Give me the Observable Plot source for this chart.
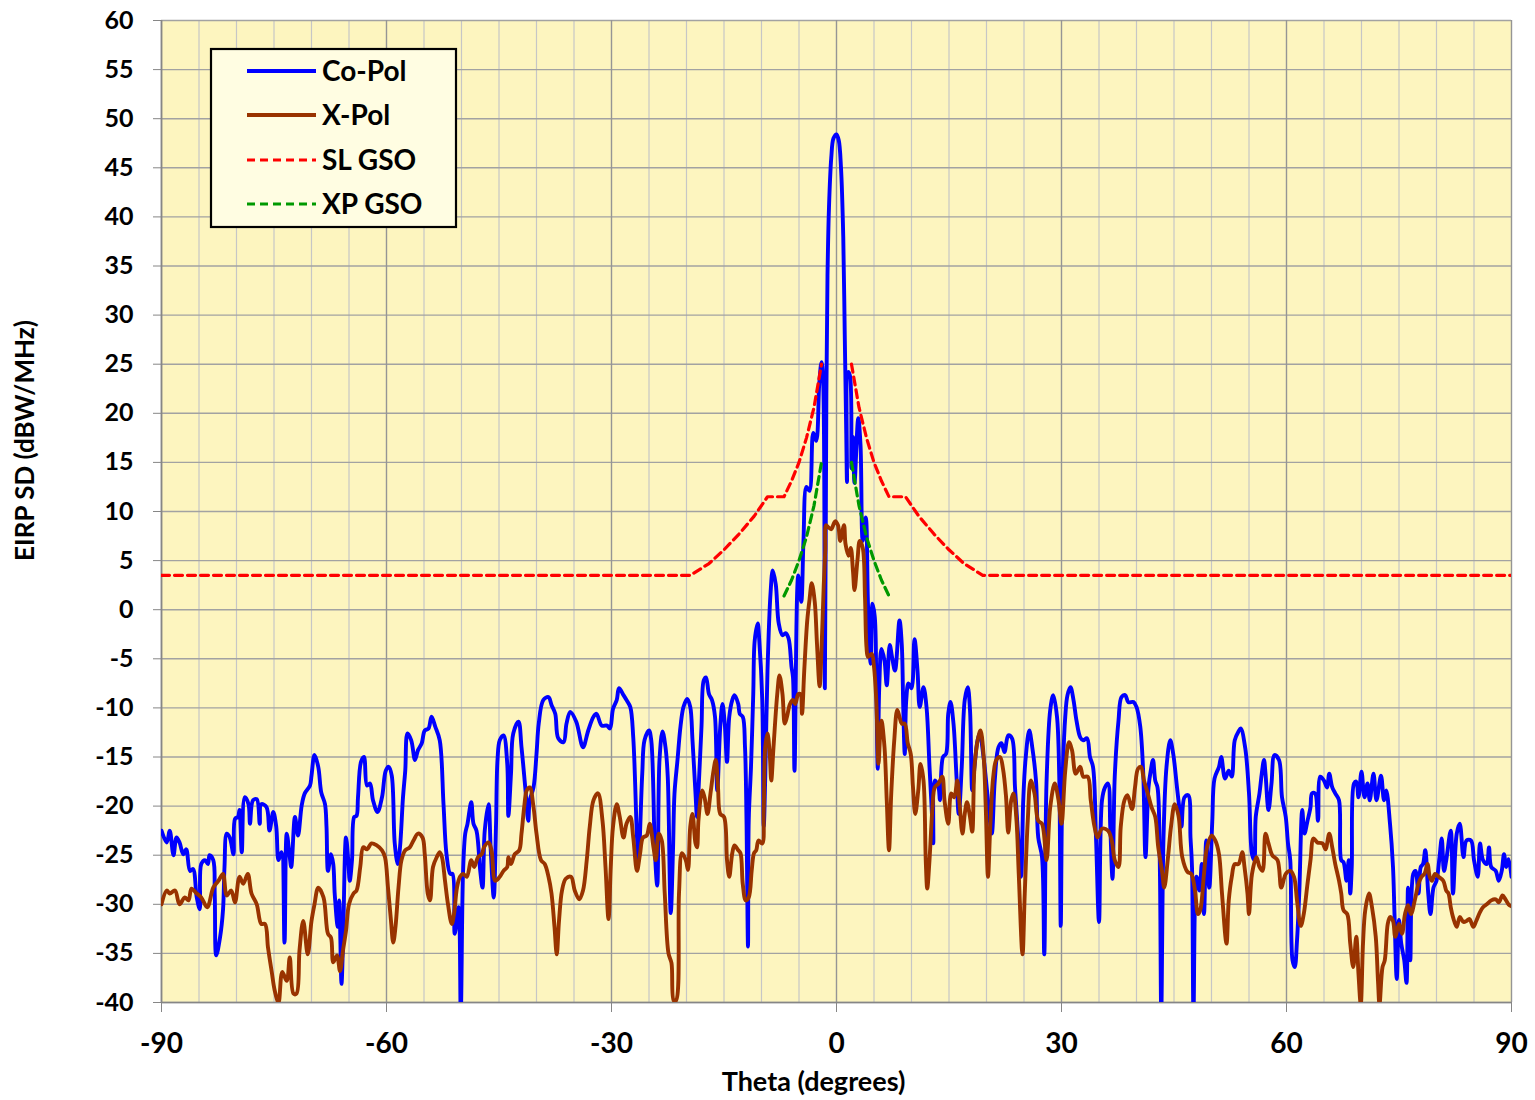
<!DOCTYPE html>
<html>
<head>
<meta charset="utf-8">
<script src="https://cdn.jsdelivr.net/npm/d3@7"></script>
<script src="https://cdn.jsdelivr.net/npm/@observablehq/plot@0.6"></script>
<style>
  html, body { margin: 0; padding: 0; background: #ffffff; }
  #wrap { position: relative; width: 1535px; height: 1100px; font-family: Lato, "Open Sans", sans-serif; }
  #legend { position: absolute; left: 0; top: 0; }
</style>
</head>
<body>
<div id="wrap"></div>
<script>
// ---------------- data ----------------
const xTicks = [-90, -60, -30, 0, 30, 60, 90];
const yTicks = [-40, -35, -30, -25, -20, -15, -10, -5, 0, 5, 10, 15, 20, 25, 30, 35, 40, 45, 50, 55, 60];
const xMinorGrid = [-85, -80, -75, -70, -65, -55, -50, -45, -40, -35, -25, -20, -15, -10, -5, 5, 10, 15, 20, 25, 35, 40, 45, 50, 55, 65, 70, 75, 80, 85];

const seriesNames = ["Co-Pol", "X-Pol", "SL GSO", "XP GSO"];
const seriesColors = ["#0000FF", "#993300", "#FF0000", "#009900"];

// Co-Pol: [theta (deg), EIRP SD (dBW/MHz)]
const coPol = [
[-90,-22.5],[-89.3,-23.7],[-88.9,-22.5],[-88.4,-25],[-88,-23.2],[-87.6,-23.7],[-87.1,-24.9],[-86.7,-24.4],[-86.2,-26.6],[-85.8,-26.4],
[-85.3,-29.3],[-84.9,-30.5],[-84.7,-25.9],[-84.2,-25.5],[-83.8,-25.9],[-83.6,-25],[-83.1,-25.5],[-82.9,-29],[-82.7,-35.2],[-82.2,-33.4],
[-81.8,-30.6],[-81.6,-26.2],[-81.3,-22.8],[-80.9,-23.2],[-80.4,-24.9],[-80.2,-21.3],[-79.8,-21.1],[-79.6,-20.4],[-79.3,-24.7],[-78.9,-19.1],
[-78.4,-19.8],[-78.2,-21.8],[-77.8,-19.4],[-77.3,-19.3],[-76.9,-21.8],[-76.7,-19.8],[-76,-20.1],[-75.6,-22.5],[-75.1,-20.6],[-74.7,-22.1],
[-74.4,-25.5],[-74,-24.7],[-73.6,-33.9],[-73.3,-22.8],[-72.9,-25.2],[-72.7,-26.2],[-72.2,-21.1],[-71.8,-23],[-71.3,-19.9],[-70.9,-18.7],
[-70.2,-17.9],[-70,-16.9],[-69.6,-14.8],[-69.1,-16],[-68.7,-18.6],[-68.2,-19.8],[-68,-22.1],[-67.8,-26.6],[-67.4,-24.9],[-67.1,-25.9],
[-66.9,-29],[-66.5,-32.3],[-66.3,-29.6],[-66,-38.1],[-65.8,-34],[-65.4,-23.2],[-65.1,-25.5],[-64.9,-27.6],[-64.6,-25.5],[-64.3,-21.1],
[-64,-21],[-63.8,-19.1],[-63.4,-15.5],[-63,-15],[-62.6,-17.9],[-62.2,-17.7],[-61.8,-19.4],[-61.2,-20.6],[-60.6,-19.1],[-60.1,-16.4],
[-59.7,-16],[-59.3,-16.9],[-58.9,-23.8],[-58.5,-25.9],[-58.2,-24.2],[-57.8,-19.1],[-57.5,-16.4],[-57.2,-12.6],[-56.7,-13.3],[-56.2,-15.3],
[-55.8,-14.3],[-55.3,-13.6],[-54.9,-12.3],[-54.4,-12.1],[-54,-10.9],[-53.5,-11.9],[-52.9,-13.3],[-52.4,-19.8],[-52,-24.9],[-51.5,-26.9],
[-51.2,-26.9],[-50.9,-33],[-50.4,-30.3],[-50.1,-41],[-49.8,-26.9],[-49.5,-22.8],[-49.2,-21.8],[-48.7,-19.6],[-48.4,-21.8],[-48,-22.5],
[-47.5,-26.6],[-47.2,-28.3],[-46.9,-22.5],[-46.4,-19.8],[-46.1,-24.5],[-45.7,-29.3],[-45.4,-22],[-45.2,-15.3],[-44.9,-13.3],[-44.4,-12.8],
[-43.9,-15.7],[-43.75,-21],[-43.4,-16.7],[-43.1,-12.6],[-42.4,-11.4],[-42,-14],[-41.5,-18.1],[-41.1,-21.5],[-40.9,-19.4],[-40.4,-18.1],
[-40,-14.7],[-39.7,-11.6],[-39.1,-9.2],[-38.4,-8.9],[-38,-9.7],[-37.5,-10.6],[-37.1,-13.1],[-36.4,-13.5],[-36,-11.6],[-35.5,-10.4],
[-34.7,-11.4],[-33.8,-14],[-33.1,-12.3],[-32.4,-10.9],[-32,-10.6],[-31.3,-11.8],[-30.6,-11.8],[-30.2,-12.1],[-29.8,-10.1],[-29.3,-9.2],
[-29,-8],[-28.4,-8.7],[-28,-9.2],[-27.5,-9.9],[-27.1,-13],[-26.6,-23.2],[-26.4,-25.5],[-25.9,-16.7],[-25.6,-13.3],[-25,-12.3],
[-24.7,-13.3],[-24.2,-24.9],[-23.9,-28.1],[-23.6,-15.3],[-23.2,-12.4],[-22.8,-14],[-22.5,-17],[-22.1,-30.9],[-21.8,-24.5],[-21.6,-18.7],
[-21.2,-15.3],[-20.8,-11.9],[-20.4,-9.9],[-19.9,-9.1],[-19.5,-9.9],[-19.2,-13.3],[-18.8,-18.7],[-18.6,-21.1],[-18.4,-18.4],[-18,-11.9],
[-17.7,-7.2],[-17.4,-6.9],[-17,-8.6],[-16.6,-9.2],[-16.2,-10.9],[-15.9,-18.4],[-15.5,-11.9],[-15.2,-9.6],[-14.9,-11.6],[-14.6,-15.5],
[-14.3,-10.9],[-13.9,-9.2],[-13.6,-8.7],[-13.1,-9.6],[-12.9,-10.6],[-12.5,-10.9],[-12.2,-14],[-12,-21.4],[-11.8,-34.3],[-11.7,-21.4],
[-11.4,-16],[-11.1,-8.6],[-10.9,-3.1],[-10.5,-1.4],[-10.3,-3.1],[-9.9,-9.2],[-9.7,-22.1],[-9.5,-17],[-9.2,-6.2],[-8.8,1.6],
[-8.5,4],[-8.1,2.6],[-7.7,-1.4],[-7.2,-2.6],[-6.8,-2.4],[-6.4,-2.9],[-6,-5.8],[-5.8,-6.9],[-5.6,-16.4],[-5.1,3.5],
[-4.7,0.8],[-4.4,7.1],[-4,12.5],[-3.6,12.1],[-3.1,18],[-2.7,17.2],[-2.3,23],[-2,25.2],[-1.8,23.8],[-1.55,-8],
[-1.35,22],[-1.2,34],[-1,41],[-0.7,46],[-0.4,48],[0,48.4],[0.3,47.8],[0.6,45],[0.9,38],[1.1,28],
[1.3,18],[1.4,13],[1.55,24.2],[1.8,23.8],[2,14.4],[2.2,17.6],[2.4,12.9],[2.9,19.5],[3.2,16.8],[3.5,7],
[3.9,9.4],[4.2,0.5],[4.55,-5.5],[4.8,0.6],[5.1,-0.7],[5.3,-6.9],[5.5,-16.2],[5.7,-7.9],[6,-4],[6.4,-5.2],
[6.7,-7.7],[7.1,-3.6],[7.4,-4.8],[7.8,-6.2],[8.4,-1.1],[8.7,-3.5],[8.9,-9.9],[9.1,-14.7],[9.3,-9.2],[9.6,-7.5],
[10,-8],[10.4,-3],[10.8,-6.2],[11.1,-9.9],[11.6,-7.9],[12,-9.9],[12.4,-16],[12.7,-20.4],[12.9,-23.8],[13.1,-17.4],
[13.6,-18.1],[13.8,-19.4],[14.2,-15],[14.6,-14.7],[14.9,-10.6],[15.2,-9.4],[15.6,-11.6],[16,-17],[16.3,-20.8],[16.7,-16],
[17.1,-9.2],[17.5,-7.9],[17.8,-10.2],[18.1,-18.4],[18.4,-16],[18.8,-13.3],[19.1,-12.6],[19.6,-15],[20.2,-19.4],[20.7,-22.8],
[21.1,-17.4],[21.6,-14],[22,-13.6],[22.4,-14.5],[22.9,-12.8],[23.4,-13.1],[23.8,-18.1],[24.2,-22.8],[24.6,-27.2],[24.9,-19.4],
[25.2,-15.3],[25.7,-12.3],[26.1,-14],[26.6,-17.4],[26.9,-23.2],[27.4,-25.2],[27.7,-35.1],[28,-17.7],[28.5,-10.2],[28.9,-8.7],
[29.4,-10.9],[29.7,-17],[29.9,-32.2],[30.1,-18.7],[30.5,-10.9],[30.8,-8.7],[31.2,-7.9],[31.6,-9.2],[32,-11.3],[32.5,-13],
[32.9,-13.3],[33.4,-13.1],[33.8,-15],[34.2,-16],[34.6,-23.2],[35,-31.8],[35.4,-19.4],[35.8,-18.1],[36.2,-17.7],[36.5,-22.1],
[36.8,-27.4],[37.1,-17],[37.6,-11.3],[38,-8.9],[38.5,-8.7],[38.9,-9.4],[39.6,-9.4],[40,-9.9],[40.5,-11.9],[40.9,-16.7],
[41.2,-25.2],[41.6,-18.1],[41.9,-16.4],[42.2,-15.3],[42.5,-17.4],[42.8,-18.1],[43.1,-25.5],[43.3,-41],[43.6,-23.2],[44,-16],
[44.5,-13.3],[44.9,-14.7],[45.4,-18.1],[45.8,-20.8],[46,-22.1],[46.4,-19.1],[46.9,-18.9],[47.2,-23.2],[47.4,-26.2],[47.6,-41],
[48,-27.2],[48.4,-28.6],[48.7,-25.9],[49,-31],[49.3,-23.5],[49.7,-28.3],[50.1,-21.6],[50.4,-17.2],[51,-16],[51.3,-15],
[51.8,-17.2],[52.3,-16.4],[52.7,-17],[53.1,-13.3],[53.6,-12.4],[53.9,-12.1],[54.5,-14.1],[55,-18.7],[55.4,-24.9],[55.7,-25.5],
[55.9,-21.1],[56.4,-18.7],[56.7,-16.7],[57,-15.3],[57.2,-16.7],[57.6,-20.4],[58,-17.7],[58.4,-14.8],[59,-15.3],[59.4,-19.1],
[59.9,-21.1],[60.2,-23.8],[60.5,-25.5],[60.8,-35.7],[61.1,-36.4],[61.4,-33.7],[61.7,-28.9],[62.1,-20.4],[62.4,-22.8],[62.8,-21.5],
[63.2,-20.1],[63.4,-18.7],[63.8,-18.7],[64.2,-21.5],[64.5,-17],[65,-17.4],[65.4,-18.1],[65.7,-16.7],[66.1,-18.1],[66.5,-18.7],
[67,-19.4],[67.3,-25.5],[67.6,-25.7],[68,-27.6],[68.3,-25.5],[68.5,-28.9],[68.7,-26.2],[69,-17.7],[69.3,-17.5],[69.6,-19.1],
[70,-16.5],[70.4,-19.1],[70.8,-17.7],[71.1,-19.4],[71.6,-16.7],[72,-19.4],[72.6,-16.9],[73,-19.4],[73.3,-18.4],[73.8,-21.8],
[74.2,-26.2],[74.4,-31],[74.7,-37.6],[75,-31.6],[75.3,-34],[75.7,-35.7],[76,-38],[76.2,-28.3],[76.5,-35.7],[76.9,-26.9],
[77.2,-26.6],[77.6,-28.9],[77.9,-26.2],[78.2,-25.9],[78.5,-24.5],[78.9,-28.9],[79.2,-31],[79.6,-28.3],[80,-27.6],[80.4,-25.2],
[80.7,-23.3],[81,-26.6],[81.3,-25.5],[81.9,-22.5],[82.2,-28.9],[82.7,-22.8],[83.1,-21.8],[83.6,-25.2],[84,-23.5],[84.6,-23.5],
[85,-25.5],[85.5,-27.2],[85.8,-23.8],[86.2,-25.5],[86.7,-25.9],[87,-24.2],[87.3,-26.2],[87.9,-26.6],[88.3,-27.6],[88.7,-26.6],
[89,-24.9],[89.3,-26.2],[89.6,-25.4],[90,-27.2]
];

// X-Pol: [theta (deg), EIRP SD (dBW/MHz)]
const xPol = [
[-90,-30],[-89.3,-28.6],[-88.9,-28.9],[-88.2,-28.6],[-87.6,-30],[-86.9,-29.3],[-86.4,-29.6],[-86,-28.4],[-85.3,-28.9],[-84.7,-29.3],
[-83.9,-30.3],[-83.1,-28.3],[-82.4,-27.6],[-81.8,-26.9],[-81.3,-29.1],[-80.7,-28.6],[-80.2,-29.8],[-79.6,-27.2],[-79.1,-27.9],[-78.5,-26.9],
[-78,-28.9],[-77.3,-30],[-76.7,-32],[-76.2,-32],[-75.8,-34.4],[-75.3,-36.9],[-74.9,-38.8],[-74.4,-40],[-73.9,-36.9],[-73.3,-37.8],
[-72.9,-35.4],[-72.4,-39.1],[-72,-39.1],[-71.6,-34.7],[-71.1,-31.7],[-70.5,-35.1],[-70,-31.7],[-69.6,-30],[-69.1,-28.3],[-68.4,-29.3],
[-67.8,-33],[-67.4,-33.4],[-67.1,-35.9],[-66.6,-35.2],[-66.2,-36.8],[-65.8,-34.7],[-65.4,-32.7],[-65,-30],[-64.4,-28.9],[-64,-28.6],
[-63.5,-26.2],[-63.1,-24.2],[-62.6,-24.4],[-62,-23.8],[-61.3,-24],[-60.6,-24.5],[-60.2,-25.2],[-59.8,-28.3],[-59.4,-31.7],[-59.1,-33.9],
[-58.8,-32.3],[-58.4,-28.3],[-58,-25.5],[-57.5,-24.5],[-56.9,-24.2],[-56.4,-23.5],[-55.8,-22.8],[-55.2,-23.2],[-54.9,-24.9],[-54.5,-28.9],
[-54.2,-29.6],[-53.8,-26.2],[-53.3,-25.2],[-52.9,-24.7],[-52.6,-25.2],[-52.2,-27.6],[-51.8,-30],[-51.3,-32],[-51,-31],[-50.6,-28.3],
[-50.2,-27.2],[-49.8,-26.9],[-49.3,-27.2],[-48.7,-25.5],[-48.3,-26.2],[-47.8,-25.2],[-47.3,-24.9],[-47,-24.2],[-46.4,-23.7],[-46,-24.5],
[-45.5,-27.6],[-44.9,-27.2],[-44.4,-26.6],[-43.9,-26.2],[-43.75,-25.2],[-43.4,-25.9],[-42.9,-24.9],[-42.3,-24.5],[-42,-22.8],[-41.6,-19.8],
[-41.3,-18.4],[-40.9,-18.1],[-40.4,-20.1],[-40,-22.8],[-39.4,-25.5],[-38.9,-25.9],[-38.4,-27.2],[-38,-28.9],[-37.6,-32.3],[-37.3,-35.1],
[-37,-31.7],[-36.6,-28.6],[-36.1,-27.4],[-35.4,-27.2],[-34.9,-28.6],[-34.3,-29.5],[-33.8,-28.6],[-33.3,-25.5],[-32.9,-22.1],[-32.4,-19.4],
[-31.8,-18.7],[-31.2,-21.5],[-30.8,-26.2],[-30.4,-31.5],[-30.1,-26.2],[-29.8,-22.1],[-29.3,-19.8],[-28.9,-21.1],[-28.4,-23.2],[-28,-21.8],
[-27.5,-21.1],[-27.1,-23.2],[-26.6,-26.6],[-26.2,-24.9],[-25.8,-23.2],[-25.3,-23],[-24.9,-21.8],[-24.4,-24.2],[-24.1,-25.5],[-23.7,-22.8],
[-23.3,-23.5],[-22.9,-28.9],[-22.4,-35],[-22,-36],[-21.7,-39.8],[-21.4,-39.8],[-21,-28.9],[-20.6,-24.8],[-20.1,-25.5],[-19.8,-26.5],
[-19.5,-22.1],[-19.2,-20.8],[-18.8,-23.8],[-18.6,-24.2],[-18.4,-21.4],[-17.9,-18.4],[-17.6,-19.1],[-17.2,-20.8],[-16.8,-18.7],[-16.4,-16.4],
[-16.1,-15.3],[-15.8,-18.1],[-15.5,-20.8],[-15,-21.1],[-14.6,-25.5],[-14.3,-27.2],[-13.9,-24.8],[-13.6,-24],[-13.1,-24.5],[-12.8,-24.8],
[-12.5,-27.9],[-12.1,-29.6],[-11.7,-29.3],[-11.3,-26.5],[-11,-24.8],[-10.7,-24.5],[-10.4,-23.5],[-9.9,-23.8],[-9.7,-20.4],[-9.5,-14],
[-9.2,-12.6],[-8.9,-14.7],[-8.7,-17.4],[-8.4,-14],[-7.9,-8.6],[-7.6,-6.7],[-7.2,-8.6],[-6.9,-11.6],[-6.6,-10.9],[-6.2,-9.6],
[-5.8,-9.2],[-5.5,-9.6],[-5.1,-8.6],[-4.8,-8.6],[-4.6,-10.6],[-4.3,-6.2],[-3.9,-1.1],[-3.6,1],[-3.3,2.7],[-2.9,0.8],
[-2.6,-3.5],[-2.25,-7.8],[-1.95,-3],[-1.7,2.5],[-1.5,6],[-1.4,8.6],[-1.1,8.4],[-0.7,8.2],[-0.2,9],[0.2,8.6],
[0.5,7],[1,8.6],[1.2,6.7],[1.6,5.5],[1.9,6.3],[2.2,3.9],[2.4,2],[2.8,5.1],[3.1,7],[3.5,6.3],
[3.8,1.25],[4,-3.8],[4.2,-4.8],[4.7,-4.5],[5,-5.8],[5.3,-9.2],[5.6,-15.7],[5.8,-13],[6,-11.3],[6.4,-14],
[6.7,-19.4],[7,-24.5],[7.3,-18.7],[7.7,-13.3],[8.1,-10.2],[8.4,-10.9],[8.7,-11.6],[9.1,-11.6],[9.5,-13.6],[9.9,-14.7],
[10.2,-18.1],[10.5,-20.8],[10.9,-18.4],[11.2,-15.7],[11.6,-17.4],[11.9,-25.5],[12.1,-28.4],[12.4,-25.5],[12.8,-20.1],[13.1,-18.1],
[13.6,-17.7],[14.1,-17],[14.4,-19.4],[14.9,-21.8],[15.3,-18.7],[15.7,-19.1],[16.1,-17.4],[16.4,-19.7],[16.8,-22.8],[17.1,-20.8],
[17.4,-19.6],[17.8,-21.1],[18.1,-22.6],[18.4,-16],[18.9,-13],[19.2,-12.3],[19.6,-14.7],[19.9,-20.1],[20.2,-27.2],[20.5,-22.1],
[20.9,-17],[21.3,-15.3],[21.8,-15],[22.2,-16.2],[22.6,-19],[22.9,-22.7],[23.3,-19.4],[23.6,-18.7],[24,-21.5],[24.3,-26.9],
[24.8,-35.1],[25.1,-28.9],[25.5,-21.5],[25.9,-17.4],[26.4,-18.7],[26.9,-21.5],[27.4,-21.8],[28,-25.5],[28.5,-20.1],[29.1,-17.7],
[29.6,-19.4],[30,-21.8],[30.5,-16.4],[31,-13.5],[31.4,-14.3],[31.9,-16.7],[32.5,-16],[32.9,-17],[33.5,-17],[33.9,-19.4],
[34.4,-22.1],[34.8,-23.2],[35.4,-22.3],[36.2,-22.5],[36.7,-23.5],[37.1,-25.5],[37.6,-26.2],[37.9,-22.1],[38.4,-19.4],[38.8,-18.9],
[39.4,-20.3],[39.8,-18.1],[40.2,-16.2],[40.6,-16],[41,-17.4],[41.5,-18.7],[42,-20.1],[42.5,-21.1],[42.9,-24.2],[43.4,-26.6],
[43.7,-28.3],[44.2,-25.2],[44.6,-22.1],[45.1,-19.8],[45.6,-21],[46.1,-25.2],[46.8,-26.7],[47.3,-26.9],[47.8,-28.6],[48.2,-31],
[48.5,-30.6],[49,-26.9],[49.4,-24.2],[50,-23],[50.5,-23.5],[51,-24.9],[51.4,-28.9],[52,-34],[52.3,-29.6],[52.7,-27.2],
[53.1,-25.9],[53.6,-25.9],[54.1,-24.7],[54.4,-26.2],[54.8,-28.9],[55,-31],[55.4,-26.9],[56,-25.2],[56.4,-26.2],[56.8,-26.6],
[57.2,-22.8],[57.6,-23.8],[58.1,-25],[58.8,-25.5],[59.3,-28.3],[59.9,-26.9],[60.5,-26.6],[61,-27.2],[61.4,-29.6],[61.9,-32.2],
[62.3,-31],[62.8,-27.9],[63.2,-25.5],[63.6,-23.3],[64.1,-23.7],[64.8,-23.8],[65.2,-24.4],[65.7,-22.8],[66.1,-24.2],[66.5,-25.9],
[67,-27.6],[67.3,-28.9],[67.6,-30.6],[68.1,-31],[68.5,-34],[68.9,-36.4],[69.3,-33.3],[69.6,-37.1],[69.9,-40.2],[70.2,-34],
[70.5,-30.6],[71,-28.9],[71.4,-30.3],[71.9,-33.3],[72.2,-37.8],[72.4,-40.2],[72.8,-36.4],[73.1,-35.7],[73.5,-32],[73.8,-31.3],
[74.2,-31.7],[74.5,-33.3],[75,-32],[75.4,-33],[75.8,-31],[76.2,-30.1],[76.6,-31],[77.1,-29.6],[77.6,-27.9],[78,-27.2],
[78.4,-26.9],[78.8,-25.9],[79.1,-27.2],[79.4,-27.6],[79.8,-26.9],[80.3,-27.2],[80.9,-27.6],[81.3,-28.6],[81.6,-28.9],[81.9,-30.3],
[82.2,-31.3],[82.7,-32.3],[83.1,-31.3],[83.6,-31.8],[84,-31.7],[84.4,-31.5],[84.9,-32.3],[85.3,-31.7],[85.8,-30.8],[86.2,-30.3],
[86.7,-30],[87.3,-29.6],[87.9,-29.5],[88.3,-29.8],[88.8,-29.1],[89.2,-29.5],[89.6,-30],[90,-30.2]
];

// SL GSO mask (two branches, no line between -2 and +2)
const slGso = [
[-90,3.5],[-19.5,3.5],[-17,4.7],[-15,6.1],[-13,7.7],[-11,9.5],[-9.2,11.5],[-7,11.5],[-6,13.1],[-5,15],[-4,17.5],[-3,20.6],[-2,25],
[2,25],[3,20.6],[4,17.5],[5,15],[6,13.1],[7,11.5],[9.2,11.5],[11,9.5],[13,7.7],[15,6.1],[17,4.7],[19.5,3.5],[90,3.5]
];
// XP GSO mask
const xpGso = [
[-7,1.4],[-6,3],[-5,5],[-4,7.4],[-3,10.6],[-2,15],
[2,15],[3,10.6],[4,7.4],[5,5],[6,3],[7,1.4]
];

// ---------------- chart ----------------
const side = d => (d[0] < 0 ? "L" : "R");
const fontFam = "Lato, 'Open Sans', sans-serif";

const chart = Plot.plot({
  width: 1535,
  height: 1100,
  marginLeft: 161,
  marginRight: 24,
  marginTop: 20,
  marginBottom: 98,
  x: {domain: [-90, 90]},
  y: {domain: [-40, 60]},
  style: {fontFamily: fontFam, fontWeight: "bold", background: "#ffffff", color: "#000000", overflow: "visible"},
  marks: [
    Plot.frame({fill: "#FDF5BF", stroke: null}),
    Plot.ruleX(xMinorGrid, {stroke: "#c6c6c6", strokeWidth: 1.2}),
    Plot.ruleY(yTicks, {stroke: "#a2a2a2", strokeWidth: 1.4}),
    Plot.ruleX(xTicks, {stroke: "#959595", strokeWidth: 1.4}),
    Plot.ruleX([-90], {stroke: "#868686", strokeWidth: 1.6}),
    Plot.ruleY([-40], {stroke: "#868686", strokeWidth: 1.6}),
    Plot.axisY({ticks: yTicks, tickSize: 8, tickPadding: 20, tickFormat: d => String(d),
      fontSize: 25, fontWeight: "bold", fill: "#000000", stroke: "#868686", label: null}),
    Plot.axisX({ticks: xTicks, tickSize: 10, tickPadding: 21, tickFormat: d => String(d),
      fontSize: 28, fontWeight: "bold", fill: "#000000", stroke: "#868686", label: null}),
    Plot.line(coPol, {x: d => d[0], y: d => d[1], stroke: seriesColors[0], strokeWidth: 3.9,
      curve: "catmull-rom", clip: true, strokeLinejoin: "round"}),
    Plot.line(xPol, {x: d => d[0], y: d => d[1], stroke: seriesColors[1], strokeWidth: 3.9,
      curve: "catmull-rom", clip: true, strokeLinejoin: "round"}),
    Plot.line(slGso, {x: d => d[0], y: d => d[1], z: side, stroke: seriesColors[2], strokeWidth: 3.2,
      strokeDasharray: "8,5", clip: true}),
    Plot.line(xpGso, {x: d => d[0], y: d => d[1], z: side, stroke: seriesColors[3], strokeWidth: 3.2,
      strokeDasharray: "8,5", clip: true}),
    Plot.text(["Theta (degrees)"], {frameAnchor: "bottom", dx: -23, dy: 80, fontSize: 27,
      fontWeight: "bold", textAnchor: "middle", lineAnchor: "middle", fill: "#000000"}),
    Plot.text(["EIRP SD (dBW/MHz)"], {frameAnchor: "left", dx: -136, dy: -71, rotate: -90, fontSize: 26,
      fontWeight: "bold", textAnchor: "middle", lineAnchor: "middle", fill: "#000000"})
  ]
});

const wrap = document.getElementById("wrap");
wrap.appendChild(chart);

// ---------------- legend (inside the plot area, top-left) ----------------
const ns = "http://www.w3.org/2000/svg";
const leg = document.createElementNS(ns, "svg");
leg.setAttribute("id", "legend");
leg.setAttribute("width", 1535);
leg.setAttribute("height", 260);
const box = document.createElementNS(ns, "rect");
box.setAttribute("x", 211); box.setAttribute("y", 49);
box.setAttribute("width", 245); box.setAttribute("height", 178);
box.setAttribute("fill", "#FFFDE2"); box.setAttribute("stroke", "#000000"); box.setAttribute("stroke-width", 2.2);
leg.appendChild(box);
const rowsY = [71, 115, 160, 204];
const dashes = [null, null, "8,5", "8,5"];
seriesNames.forEach((name, i) => {
  const ln = document.createElementNS(ns, "line");
  ln.setAttribute("x1", 247); ln.setAttribute("x2", 316);
  ln.setAttribute("y1", rowsY[i]); ln.setAttribute("y2", rowsY[i]);
  ln.setAttribute("stroke", seriesColors[i]);
  ln.setAttribute("stroke-width", i < 2 ? 3.9 : 3.2);
  if (dashes[i]) ln.setAttribute("stroke-dasharray", dashes[i]);
  leg.appendChild(ln);
  const t = document.createElementNS(ns, "text");
  t.setAttribute("x", 322); t.setAttribute("y", rowsY[i]);
  t.setAttribute("dy", "0.36em");
  t.setAttribute("font-family", fontFam);
  t.setAttribute("font-weight", "bold");
  t.setAttribute("font-size", 28);
  t.setAttribute("fill", "#000000");
  t.textContent = name;
  leg.appendChild(t);
});
wrap.appendChild(leg);
</script>
</body>
</html>
